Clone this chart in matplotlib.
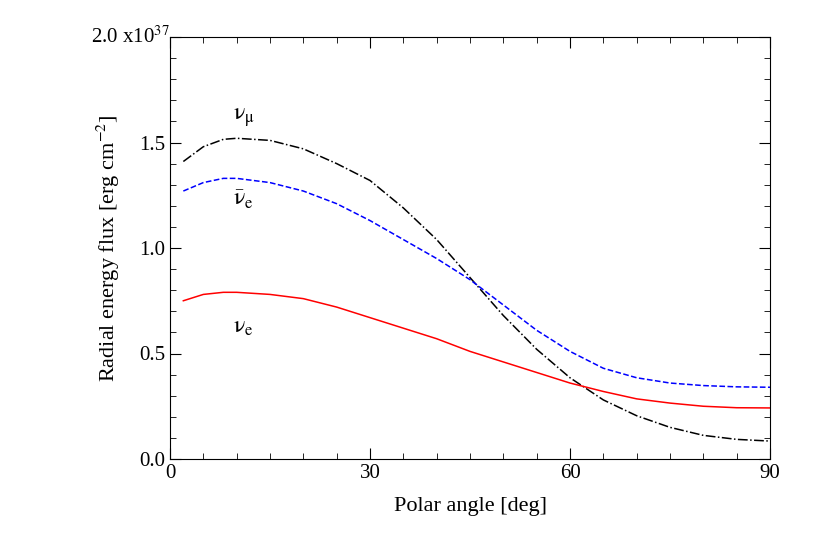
import matplotlib
matplotlib.use("Agg")
import matplotlib.pyplot as plt
from matplotlib.ticker import MultipleLocator, FixedFormatter, FixedLocator
import numpy as np

plt.rcParams['font.family'] = 'Liberation Serif'
plt.rcParams['mathtext.fontset'] = 'stix'

angle = [2, 5, 8, 10, 15, 20, 25, 30, 35, 40, 45, 50, 55, 60, 65, 70, 75, 80, 85, 90]
nu_mu = [1.41, 1.48, 1.515, 1.52, 1.51, 1.47, 1.40, 1.32, 1.19, 1.04, 0.86, 0.68, 0.52, 0.385, 0.28, 0.205, 0.15, 0.112, 0.093, 0.085]
nu_ebar = [1.27, 1.31, 1.33, 1.33, 1.31, 1.27, 1.21, 1.13, 1.04, 0.95, 0.85, 0.73, 0.61, 0.51, 0.43, 0.385, 0.36, 0.348, 0.342, 0.34]
nu_e = [0.75, 0.78, 0.79, 0.79, 0.78, 0.76, 0.72, 0.67, 0.62, 0.57, 0.51, 0.46, 0.41, 0.36, 0.32, 0.285, 0.265, 0.25, 0.243, 0.242]

fig = plt.figure(figsize=(8.3, 5.46), dpi=100)
ax = fig.add_axes([170/830, 1-459/546, 600/830, 422/546])
ax.plot(angle, nu_mu, color='black', ls='-.', lw=1.1)
ax.plot(angle, nu_ebar, color='blue', ls='--', lw=1.1)
ax.plot(angle, nu_e, color='red', ls='-', lw=1.1)
ax.set_xlim(0, 90)
ax.set_ylim(0, 2.0)
ax.xaxis.set_major_locator(MultipleLocator(30))
ax.xaxis.set_minor_locator(MultipleLocator(5))
ax.yaxis.set_major_locator(FixedLocator([0, 0.5, 1.0, 1.5, 2.0]))
ax.yaxis.set_major_formatter(FixedFormatter(['0.0', '0.5', '1.0', '1.5', '']))
ax.yaxis.set_minor_locator(MultipleLocator(0.1))
ax.tick_params(which='both', direction='in', top=True, right=True, labelsize=15)
ax.tick_params(which='major', length=8)
ax.tick_params(which='minor', length=4)
ax.text(-0.005, 2.0, r'2.0 x10$^{37}$', ha='right', va='center', fontsize=15)
ax.set_xlabel('Polar angle [deg]', fontsize=16, labelpad=10)
ax.set_ylabel(r'Radial energy flux [erg cm$^{-2}$]', fontsize=16, labelpad=12)
ax.text(9.5, 1.61, r'$\mathrm{\nu_{\mu}}$', fontsize=17)
ax.text(9.5, 1.2, r'$\mathrm{\bar{\nu}_{e}}$', fontsize=17)
ax.text(9.5, 0.60, r'$\mathrm{\nu_{e}}$', fontsize=17)
fig.savefig('out.png', dpi=100)
